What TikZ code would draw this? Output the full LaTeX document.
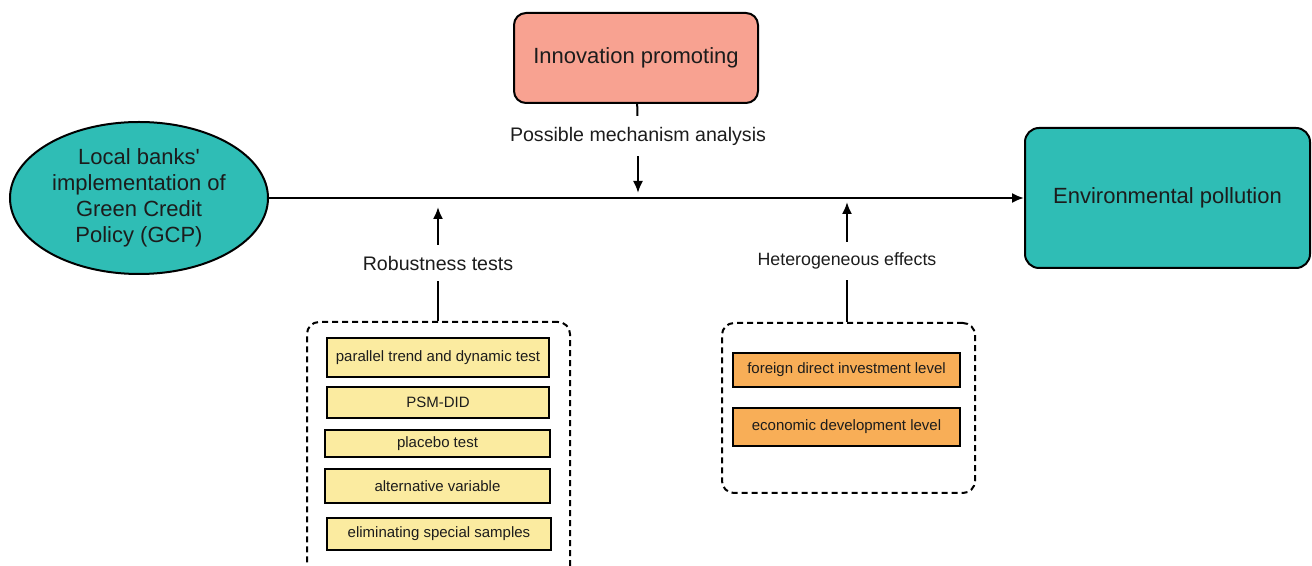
\documentclass[tikz,border=0pt]{standalone}
\usepackage{fontspec}
\setmainfont{Liberation Sans}
\usetikzlibrary{arrows.meta,shapes.geometric}

\definecolor{tealfill}{HTML}{2FBDB5}
\definecolor{salmonfill}{HTML}{F8A291}
\definecolor{yellowfill}{HTML}{FBEBA0}
\definecolor{orangefill}{HTML}{F8AE57}
\definecolor{ink}{HTML}{1C1C1C}

\begin{document}
\begin{tikzpicture}[x=0.5pt,y=-0.5pt,line width=1pt,
  arr/.style={-{Latex[length=6pt,width=5pt]}},
  big/.style={font=\fontsize{11}{13}\selectfont,text=ink,align=center},
  lbl/.style={font=\fontsize{9.8}{11}\selectfont,text=ink,inner xsep=0pt,inner ysep=5pt},
  testbox/.style={draw,line width=1.1pt,fill=yellowfill,text=ink,inner sep=0pt,
    font=\fontsize{7.5}{9}\selectfont},
  hetbox/.style={testbox,fill=orangefill},
  group/.style={draw,dash pattern=on 3pt off 2pt,line width=1pt,rounded corners=6pt,inner sep=0pt}]

  \useasboundingbox (0,0) rectangle (1312,566);

  \node[draw,ellipse,fill=tealfill,big,inner sep=0pt,minimum width=129pt,minimum height=76pt] (gcp) at (139,198)
    {Local banks\textquotesingle\\implementation of\\Green Credit\\Policy (GCP)};
  \node[draw,rounded corners=7pt,fill=tealfill,big,minimum width=142.5pt,minimum height=70pt] (env) at (1167.5,198)
    {Environmental pollution};
  \node[draw,rounded corners=6pt,fill=salmonfill,big,minimum width=122pt,minimum height=45pt] (innov) at (636,58)
    {Innovation promoting};

  \node[lbl] (mech) at (638,136) {Possible mechanism analysis};
  \node[lbl] (robl) at (438,263) {Robustness tests};
  \node[lbl,font=\fontsize{8.9}{10}\selectfont] (hetl) at (847,261) {Heterogeneous effects};

  \coordinate (m) at (638,198);
  \coordinate (r) at (438,198);
  \coordinate (h) at (847,198);

  % robustness group
  \node[group,minimum width=131.5pt,minimum height=131.5pt] (rob) at (438.5,453.5) {};
  \node[testbox,minimum width=111pt,minimum height=19.5pt] (t1) at (438,357.5) {parallel trend and dynamic test};
  \node[testbox,minimum width=111pt,minimum height=15.5pt] (t2) at (438,402.5) {PSM-DID};
  \node[testbox,minimum width=112.5pt,minimum height=13.5pt] (t3) at (437.5,443.5) {placebo test};
  \node[testbox,minimum width=112.5pt,minimum height=17pt] (t4) at (437.5,486) {alternative variable};
  \node[testbox,minimum width=112pt,minimum height=16pt] (t5) at (439,534) {eliminating special samples};

  % heterogeneity group
  \node[group,minimum width=126.5pt,minimum height=85pt] (het) at (848.5,408) {};
  \node[hetbox,minimum width=113.5pt,minimum height=17pt] (h1) at (846.5,370) {foreign direct investment level};
  \node[hetbox,minimum width=113.5pt,minimum height=19pt] (h2) at (846.5,427) {economic development level};

  \draw[arr] (gcp) -- (env);
  \draw (innov) -- (mech);
  \draw[shorten >=2.5pt,arr] (mech) -- (m);
  \draw (robl) -- (robl |- rob.north);
  \draw[shorten >=4.5pt,arr] (robl) -- (r);
  \draw (hetl) -- (hetl |- het.north);
  \draw[shorten >=2pt,arr] (hetl) -- (h);

\end{tikzpicture}
\end{document}
